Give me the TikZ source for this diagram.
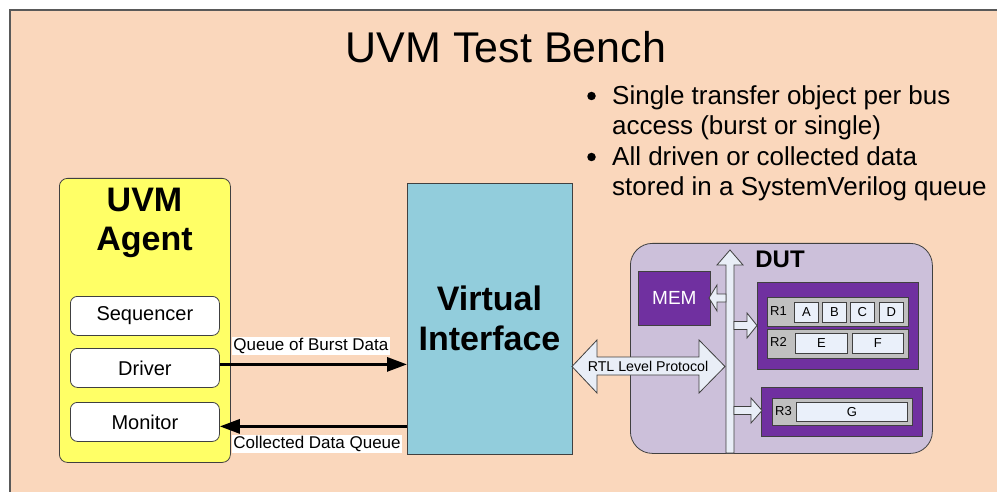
\documentclass[tikz,border=0pt]{standalone}
\usepackage{fontspec}
\setmainfont{Liberation Sans}
\usetikzlibrary{arrows.meta}
\definecolor{peach}{HTML}{FAD7BC}
\definecolor{agentyellow}{HTML}{FFFF66}
\definecolor{vicyan}{HTML}{92CDDC}
\definecolor{dutlav}{HTML}{CCC0DA}
\definecolor{regpurple}{HTML}{7030A0}
\definecolor{rowgray}{HTML}{C0C0C0}
\definecolor{cellblue}{HTML}{EAF0FA}
\definecolor{barrow}{HTML}{E9EEF7}
\definecolor{edge}{HTML}{404040}
\tikzset{
  box/.style={draw=edge, line width=0.8pt, anchor=north west, inner sep=0pt},
  whitebox/.style={box, fill=white, rounded corners=7pt, minimum width=149pt, minimum height=39pt},
  rowbox/.style={box, fill=rowgray, line width=0.9pt},
  cellbox/.style={box, fill=cellblue},
  blockarrow/.style={fill=barrow, draw=edge, line width=0.8pt, line join=miter},
  flow/.style={line width=3pt, -{Triangle[length=20pt,width=14pt]}},
  flowlabel/.style={fill=white, inner sep=1.2pt, anchor=west, font=\fontsize{17}{19}\selectfont},
  bullettext/.style={anchor=base west, inner sep=0pt, font=\fontsize{26}{30}\selectfont},
  boxtext/.style={font=\fontsize{20}{23}\selectfont},
  smalltext/.style={font=\fontsize{13}{15}\selectfont},
}
\begin{document}
\begin{tikzpicture}[x=1pt,y=-1pt]
\useasboundingbox (0,0) rectangle (997,492);
\clip (0,0) rectangle (997,492);
\fill[white] (0,0) rectangle (997,492);
\draw[fill=peach, draw=gray!70!black, line width=1.2pt] (10,10) rectangle (1020,520);

% title
\node (title) at (506,47) {\fontsize{43}{50}\selectfont UVM Test Bench};

% bullets
\node[circle, fill=black, inner sep=0pt, minimum size=8.5pt] (dot1) at (591.5,96) {};
\node[bullettext] (l1) at (612,105) {Single transfer object per bus};
\node[bullettext] (l2) at (612,135) {access (burst or single)};
\node[circle, fill=black, inner sep=0pt, minimum size=8.5pt] (dot2) at (591.5,157) {};
\node[bullettext] (l3) at (612,166) {All driven or collected data};
\node[bullettext] (l4) at (612,196) {stored in a SystemVerilog queue};

% UVM agent
\node[box, fill=agentyellow, rounded corners=8pt, minimum width=171pt, minimum height=284pt] (agent) at (59,178) {};
\node[font=\bfseries\fontsize{34}{38}\selectfont] (agenttitle1) at (144.5,200) {UVM};
\node[font=\bfseries\fontsize{34}{38}\selectfont] (agenttitle2) at (144.5,242) {Agent};
\node[whitebox] (seq) at (70,296) {};
\node[boxtext] (seqt) at (seq.center) {Sequencer};
\node[whitebox] (drv) at (70,348) {};
\node[boxtext] (drvt) at (drv.center) {Driver};
\node[whitebox] (mon) at (70,402) {};
\node[boxtext] (mont) at (mon.center) {Monitor};

% virtual interface
\node[box, fill=vicyan, minimum width=165pt, minimum height=271pt] (vi) at (407,183) {};
\node[font=\bfseries\fontsize{34}{40}\selectfont, align=center] (vit) at (489.5,318) {Virtual\\Interface};

% flows
\draw[flow] ([yshift=3.5pt]drv.east) -- ([yshift=3.5pt]drv.east -| vi.west);
\draw[flow] ([yshift=-4.5pt]mon.east -| vi.west) -- ([yshift=-4.5pt]mon.east);
\node[flowlabel] (ql) at (232,346) {Queue of Burst Data};
\node[flowlabel] (cl) at (232,444) {Collected Data Queue};

% DUT
\node[box, fill=dutlav, rounded corners=22pt, minimum width=302pt, minimum height=210pt] (dut) at (630,243) {};
\node[font=\bfseries\fontsize{24}{28}\selectfont] (dutt) at (780,259) {DUT};

% MEM
\node[box, fill=regpurple, minimum width=72pt, minimum height=54pt] (mem) at (638,271) {};
\node[text=white, font=\fontsize{19}{22}\selectfont] (memt) at (mem.center) {MEM};

% register block 1
\node[box, fill=regpurple, minimum width=161pt, minimum height=87pt] (blk1) at (757,282) {};
\node[rowbox, minimum width=141pt, minimum height=29pt] (r1) at (767,297) {};
\node[smalltext, anchor=west, inner sep=0pt] (r1t) at (770,311.5) {R1};
\node[cellbox, minimum width=24pt, minimum height=20pt] (ca) at (794,302) {};
\node[smalltext] at (ca.center) {A};
\node[cellbox, minimum width=24pt, minimum height=20pt] (cb) at (822,302) {};
\node[smalltext] at (cb.center) {B};
\node[cellbox, minimum width=24pt, minimum height=20pt] (cc) at (850,302) {};
\node[smalltext] at (cc.center) {C};
\node[cellbox, minimum width=24pt, minimum height=20pt] (cd) at (879,302) {};
\node[smalltext] at (cd.center) {D};
\node[rowbox, minimum width=141pt, minimum height=29pt] (r2) at (767,329) {};
\node[smalltext, anchor=west, inner sep=0pt] (r2t) at (770,342) {R2};
\node[cellbox, minimum width=52pt, minimum height=20pt] (ce) at (795,333) {};
\node[smalltext] at (ce.center) {E};
\node[cellbox, minimum width=51pt, minimum height=20pt] (cf) at (852,333) {};
\node[smalltext] at (cf.center) {F};

% register block 2
\node[box, fill=regpurple, minimum width=161pt, minimum height=49pt] (blk2) at (761,387) {};
\node[rowbox, minimum width=140pt, minimum height=27pt] (r3) at (772,398) {};
\node[smalltext, anchor=west, inner sep=0pt] (r3t) at (775,411) {R3};
\node[cellbox, minimum width=111pt, minimum height=19pt] (cg) at (796,402) {};
\node[smalltext] at (cg.center) {G};

% bus arrow
\draw[blockarrow] (726,453) -- (726,265) -- (717,265) -- (730,250) -- (743,265) -- (734,265) -- (734,453) -- cycle;
% to MEM
\draw[blockarrow] (726,294) -- (717,294) -- (717,285) -- (709,298) -- (717,311) -- (717,302) -- (726,302) -- cycle;
% to block 1
\draw[blockarrow] (734,321.5) -- (747,321.5) -- (747,313) -- (757,325.5) -- (747,338) -- (747,329.5) -- (734,329.5) -- cycle;
% to block 2
\draw[blockarrow] (734,406.5) -- (751,406.5) -- (751,398) -- (762,410.5) -- (751,423) -- (751,414.5) -- (734,414.5) -- cycle;
% RTL level protocol
\draw[blockarrow] (572,366.5) -- (597,340) -- (597,357) -- (699,357) -- (699,340) -- (725,366.5) -- (699,393) -- (699,375) -- (597,375) -- (597,393) -- cycle;
\node[font=\fontsize{14.2}{16}\selectfont] (rtl) at (648,366) {RTL Level Protocol};
\end{tikzpicture}
\end{document}
